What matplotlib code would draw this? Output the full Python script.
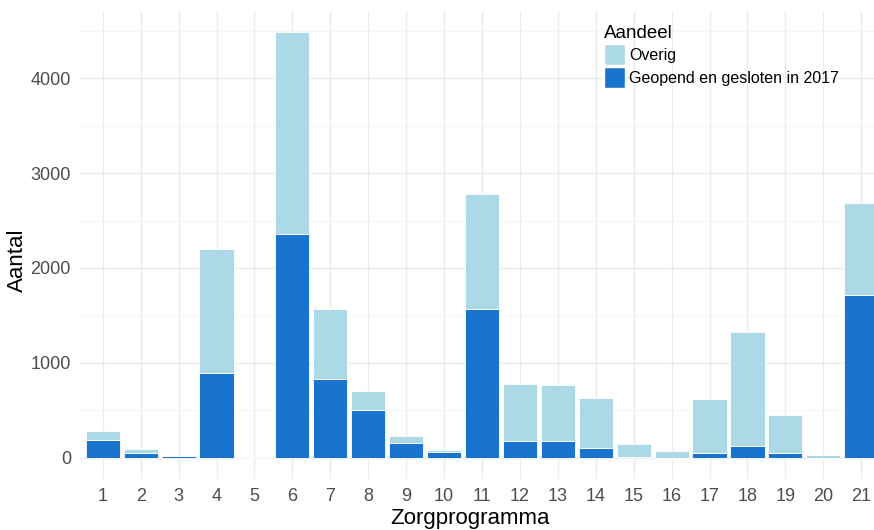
import matplotlib
matplotlib.use("Agg")
import matplotlib.pyplot as plt
from matplotlib.patches import Patch
import numpy as np

plt.rcParams['font.family'] = ['Liberation Sans', 'DejaVu Sans']

categories = [str(i) for i in range(1, 22)]
totaal = [285, 95, 20, 2195, 5, 4484, 1572, 707, 225, 84, 2775, 781, 770, 633, 144, 67, 622, 1329, 454, 30, 2680]
geopend = [190, 45, 15, 897, 2, 2363, 833, 506, 155, 63, 1572, 180, 180, 105, 10, 0, 50, 120, 50, 0, 1720]
overig = [t - g for t, g in zip(totaal, geopend)]

light = '#ADD8E6'
dark = '#1874CD'

W, H = 874, 530
fig = plt.figure(figsize=(W / 100, H / 100), dpi=100)
left, right, top, bottom = 80, 884, 11, 479
ax = fig.add_axes([left / W, 1 - bottom / H, (right - left) / W, (bottom - top) / H])

x = np.arange(1, 22)
ax.bar(x, geopend, width=0.9, color=dark, edgecolor='white', linewidth=0.6, zorder=3)
ax.bar(x, overig, width=0.9, bottom=geopend, color=light, edgecolor='white', linewidth=0.6, zorder=3)

ax.set_xlim(0.4, 21.6)
ax.set_ylim(-224, 4708)
ax.set_xticks(x)
ax.set_xticklabels(categories)
ax.set_yticks([0, 1000, 2000, 3000, 4000])
ax.set_yticks([500, 1500, 2500, 3500, 4500], minor=True)

for s in ax.spines.values():
    s.set_visible(False)
ax.grid(True, which='major', color='#EBEBEB', linewidth=1.0, zorder=0)
ax.grid(True, which='minor', axis='y', color='#F4F4F4', linewidth=0.6, zorder=0)
ax.set_axisbelow(True)
ax.tick_params(axis='y', which='both', length=0, labelsize=13, labelcolor='#4D4D4D', pad=6.5)
ax.tick_params(axis='x', which='both', length=0, labelsize=13, labelcolor='#4D4D4D', pad=6.5)

ax.set_xlabel('Zorgprogramma', fontsize=16, color='black')
ax.set_ylabel('Aantal', fontsize=16, color='black')
ax.xaxis.set_label_coords((470 - left) / (right - left), -(508 - bottom) / (bottom - top))
ax.yaxis.set_label_coords(-(80 - 28) / (right - left), (bottom - 260) / (bottom - top))

handles = [Patch(facecolor=light, edgecolor='white'), Patch(facecolor=dark, edgecolor='white')]
leg = fig.legend(handles, ['Overig', 'Geopend en gesloten in 2017'], title='Aandeel',
                 loc='upper left', bbox_to_anchor=(604 / W, 1 - 25 / H), frameon=False,
                 fontsize=11.5, title_fontsize=13.5, handlelength=1.3, handleheight=1.7,
                 handletextpad=0.25, labelspacing=0.1, borderaxespad=0, borderpad=0)
leg._legend_box.align = 'left'

fig.savefig('out.png', dpi=100)
